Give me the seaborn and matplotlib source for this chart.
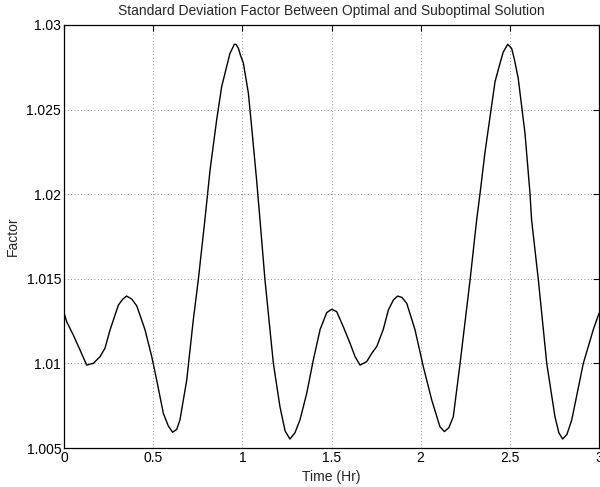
import pandas as pd
import matplotlib
matplotlib.use("Agg")
import matplotlib.pyplot as plt
import seaborn as sns

# Values
time_hr = [0.0, 0.015, 0.052, 0.09, 0.127, 0.164, 0.202, 0.23, 0.258, 0.305,
           0.33, 0.351, 0.38, 0.408, 0.454, 0.492, 0.52, 0.557, 0.585, 0.609,
           0.632, 0.65, 0.688, 0.725, 0.753, 0.79, 0.819, 0.856, 0.884, 0.912,
           0.93, 0.955, 0.965, 0.978, 0.99, 1.006, 1.034, 1.052, 1.08, 1.099,
           1.127, 1.174, 1.211, 1.24, 1.267, 1.295, 1.323, 1.361, 1.398, 1.436,
           1.473, 1.501, 1.529, 1.566, 1.604, 1.632, 1.66, 1.697, 1.726, 1.754,
           1.79, 1.819, 1.847, 1.871, 1.895, 1.922, 1.968, 2.015, 2.062, 2.108,
           2.133, 2.158, 2.183, 2.221, 2.277, 2.314, 2.333, 2.36, 2.389, 2.417,
           2.445, 2.463, 2.488, 2.51, 2.525, 2.547, 2.585, 2.613, 2.622, 2.66,
           2.707, 2.753, 2.775, 2.796, 2.82, 2.847, 2.912, 2.968, 3.0]
factor = [1.0130, 1.01246, 1.01168, 1.01079, 1.0099, 1.0100, 1.0104, 1.0109, 1.01197, 1.01345,
          1.0138, 1.01398, 1.0138, 1.0134, 1.0120, 1.0104, 1.0090, 1.00705, 1.0063, 1.00593,
          1.0061, 1.00665, 1.0090, 1.01257, 1.01493, 1.01848, 1.02143, 1.02439, 1.02635, 1.02754,
          1.0283, 1.02886, 1.02885, 1.02862, 1.0282, 1.02774, 1.02596, 1.0240, 1.02084, 1.01848,
          1.01493, 1.0100, 1.00744, 1.0060, 1.00553, 1.0059, 1.00665, 1.00823, 1.0102, 1.0120,
          1.0130, 1.0132, 1.01306, 1.01217, 1.01119, 1.0104, 1.0099, 1.0101, 1.0106, 1.0110,
          1.0120, 1.01316, 1.01375, 1.01398, 1.0139, 1.01355, 1.0120, 1.0098, 1.00784, 1.00626,
          1.00597, 1.0062, 1.00685, 1.0100, 1.01493, 1.01848, 1.02005, 1.02242, 1.02458, 1.02665,
          1.02774, 1.0284, 1.02886, 1.02862, 1.0280, 1.02685, 1.0236, 1.02005, 1.01848, 1.01493,
          1.0100, 1.00685, 1.0059, 1.00553, 1.0058, 1.00665, 1.0100, 1.0120, 1.01296]

x_ticks = [0, 0.5, 1, 1.5, 2, 2.5, 3]
x_tick_labels = ["0", "0.5", "1", "1.5", "2", "2.5", "3"]
y_ticks = [1.005, 1.01, 1.015, 1.02, 1.025, 1.03]
y_tick_labels = ["1.005", "1.01", "1.015", "1.02", "1.025", "1.03"]

df = pd.DataFrame({"Time (Hr)": time_hr, "Factor": factor})

sns.set_style("white")
plt.rcParams['font.family'] = ['Liberation Sans', 'DejaVu Sans']

fig = plt.figure(figsize=(6, 4.87), dpi=100)
ax = fig.add_axes([64 / 600, 39 / 487, 535 / 600, 423 / 487])

sns.lineplot(data=df, x="Time (Hr)", y="Factor", color="black", linewidth=1.0, ax=ax)

ax.set_xlim(0, 3)
ax.set_ylim(1.005, 1.03)
ax.set_xticks(x_ticks)
ax.set_xticklabels(x_tick_labels)
ax.set_yticks(y_ticks)
ax.set_yticklabels(y_tick_labels)

# MATLAB-like dotted grid and inward ticks on all sides
ax.grid(True, linestyle=(0, (1, 3)), color="black", linewidth=0.6, alpha=0.6)
ax.tick_params(direction="in", length=4, width=0.8, top=True, right=True,
               labelsize=10, colors="black", pad=2)
for spine in ax.spines.values():
    spine.set_visible(True)
    spine.set_color("black")
    spine.set_linewidth(0.9)

ax.set_title("Standard Deviation Factor Between Optimal and Suboptimal Solution",
             fontsize=10, pad=7)
ax.set_xlabel("Time (Hr)", fontsize=10, labelpad=4)
ax.set_ylabel("Factor", fontsize=10, labelpad=5)

fig.savefig("out.png", dpi=100, facecolor="white")
